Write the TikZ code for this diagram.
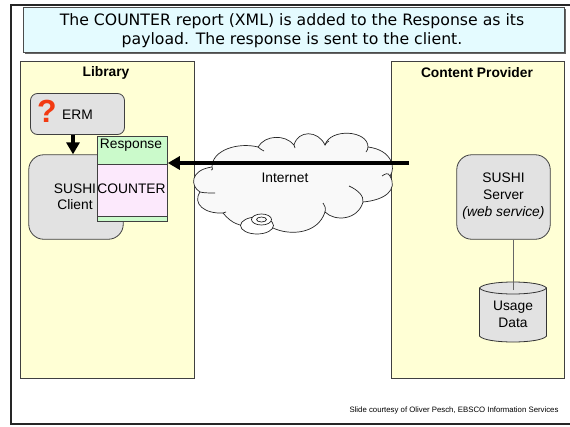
\documentclass[tikz,border=0pt]{standalone}
\usepackage{fontspec}
\setmainfont{Liberation Sans}
\newfontfamily\headfont{DejaVu Sans}
\usetikzlibrary{arrows.meta, shapes.geometric, positioning, calc}
\definecolor{panelyellow}{HTML}{FFFFD5}
\definecolor{boxgrey}{HTML}{E2E2E2}
\definecolor{headblue}{HTML}{E4FBFF}
\definecolor{respgreen}{HTML}{CBFACB}
\definecolor{countpink}{HTML}{FCE9FC}
\definecolor{cloudgrey}{HTML}{F9F9F9}
\definecolor{markred}{HTML}{F23A12}
\tikzset{
  panel/.style={draw=black!75,fill=panelyellow,line width=0.8pt,minimum width=173.5pt,minimum height=317.5pt,anchor=north west,inner sep=0pt},
  greybox/.style={draw=black!75,fill=boxgrey,line width=0.8pt,align=center,inner sep=0pt,font=\fontsize{13.8}{16.5}\selectfont},
  bigarrow/.style={line width=3.2pt,-{Triangle[width=13pt,length=12pt]}},
  lbl/.style={inner sep=0pt,font=\fontsize{13.8}{17}\selectfont,align=center},
  fold/.style={black!85,line width=0.7pt}
}
\begin{document}
\begin{tikzpicture}[x=1pt,y=-1pt]
  \useasboundingbox (0,0) rectangle (570,426);
  \fill[white] (0,0) rectangle (570,426);
  % slide frame
  \draw[black!85,line width=1.6pt] (570,5) -- (11,5) -- (11,424) -- (570,424);

  % heading
  \fill[black!60] (24.5,9) rectangle (565.5,54);
  \node[draw=black!70,fill=headblue,line width=0.8pt,minimum width=541pt,minimum height=45pt,anchor=north west,inner sep=0pt] (heading) at (22.5,7) {};
  \node[inner sep=0pt,align=center,font=\headfont\fontsize{15.7}{18.6}\selectfont] (headinglabel) at (292,30.5)
    {The COUNTER report (XML) is added to the Response as its\\payload. The response is sent to the client.};

  % panels
  \node[panel] (library) at (20,60.5) {};
  \node[panel] (provider) at (390.5,60.5) {};
  \node[lbl,font=\bfseries\fontsize{13.8}{17}\selectfont] (librarytitle) at (106,72.5) {Library};
  \node[lbl,font=\bfseries\fontsize{13.8}{17}\selectfont] (providertitle) at (477,72.5) {Content Provider};

  % library side
  \node[greybox,rounded corners=15pt,minimum width=94.5pt,minimum height=84.5pt] (client) at (76,197) {};
  \node[lbl,font=\fontsize{13.8}{16}\selectfont] (clientlabel) at (75,196.5) {SUSHI\\Client};
  \node[greybox,rounded corners=7pt,minimum width=94pt,minimum height=41pt] (erm) at (77.5,114) {};
  \node[lbl] (ermlabel) at (77.5,114.5) {ERM};
  \node[inner sep=0pt,text=markred,font=\bfseries\fontsize{32}{32}\selectfont] (mark) at (47,111) {?};
  \draw[bigarrow] ([xshift=-4.5pt]erm.south) -- ([xshift=-3pt]client.north);

  % response message
  \node[draw=black!75,fill=respgreen,line width=0.8pt,minimum width=70.5pt,minimum height=84.5pt,anchor=north west,inner sep=0pt] (response) at (96.5,136) {};
  \node[draw=black!75,fill=countpink,line width=0.8pt,minimum width=70.5pt,minimum height=52pt,anchor=north west,inner sep=0pt] (counter) at (96.5,163.5) {};
  \node[lbl] (responselabel) at (131,145) {Response};
  \node[lbl] (counterlabel) at (131.5,189) {COUNTER};

  % provider side
  \node[greybox,rounded corners=15pt,minimum width=93.5pt,minimum height=84.5pt] (server) at (503.5,197) {};
  \node[lbl] (serverlabel) at (503.5,196.5) {SUSHI\\Server\\\textit{(web service)}};
  \draw[black!80,fill=boxgrey,line width=0.8pt]
    (479.5,288) -- (479.5,336) .. controls (485,344) and (541,344) .. (546.5,336)
    -- (546.5,288) .. controls (541,280) and (485,280) .. (479.5,288) -- cycle;
  \draw[black!80,line width=0.8pt] (479.5,288) .. controls (485,296) and (541,296) .. (546.5,288);
  \node[lbl] (usagelabel) at (513,314.5) {Usage\\Data};
  \coordinate (usagetop) at (513,290);
  \draw[black!60,line width=0.9pt] (usagetop) -- (usagetop |- server.south);

  % internet cloud
  \draw[black!85,fill=cloudgrey,line width=0.7pt]
    (212,167) .. controls (190,170) and (190,186) .. (200,192)
    .. controls (192,204) and (205,214) .. (223,213)
    .. controls (232,224) and (240,226) .. (250,226)
    .. controls (258,234) and (268,230) .. (273,228)
    .. controls (290,236) and (318,234) .. (325,212)
    .. controls (335,222) and (358,220) .. (363,202)
    .. controls (385,200) and (398,190) .. (390,176)
    .. controls (396,168) and (392,150) .. (368,147)
    .. controls (368,130) and (330,128) .. (325,145)
    .. controls (318,130) and (298,130) .. (294,145)
    .. controls (285,134) and (265,135) .. (258,147)
    .. controls (238,142) and (212,150) .. (212,167) -- cycle;
  % inner folds of the cloud
  \draw[fold] (212,167) .. controls (213,170) and (212,170) .. (211,170);
  \draw[fold] (258,147) .. controls (260,149) and (262,150) .. (264,151);
  \draw[fold] (294,145) .. controls (295,146) and (295,147) .. (295,148);
  \draw[fold] (325,145) .. controls (326,143) and (327,142) .. (329,141);
  \draw[fold] (368,147) .. controls (368,149) and (367,151) .. (366,152);
  \draw[fold] (390,176) .. controls (388,172) and (385,174) .. (382,176);
  \draw[fold] (363,202) .. controls (364,196) and (358,190) .. (349,186);
  \draw[fold] (325,212) .. controls (326,208) and (325,206) .. (323,203);
  \draw[fold] (200,192) .. controls (204,193) and (210,193) .. (215,193);
  \draw[fold] (223,213) .. controls (222,213) and (224,213) .. (226,212);
  % small disk under the cloud
  \node[ellipse,draw=black!85,fill=white,line width=0.7pt,minimum width=33pt,minimum height=17pt,inner sep=0pt] (diskouter) at (257,225.5) {};
  \node[ellipse,draw=black!85,fill=white,line width=0.7pt,minimum width=20pt,minimum height=11pt,inner sep=0pt] (diskmiddle) at (261.5,219.5) {};
  \node[ellipse,draw=black!85,fill=cloudgrey,line width=0.7pt,minimum width=10pt,minimum height=5pt,inner sep=0pt] (diskinner) at (261.5,219.5) {};
  \node[lbl] (internet) at (285,178) {Internet};

  % response travels to the client
  \coordinate (sendstart) at (409,163);
  \draw[bigarrow] (sendstart) -- (sendstart -| response.east);

  \node[inner sep=0pt,font=\fontsize{7.8}{9}\selectfont] (courtesy) at (454,410) {Slide courtesy of Oliver Pesch, EBSCO Information Services};
\end{tikzpicture}
\end{document}
